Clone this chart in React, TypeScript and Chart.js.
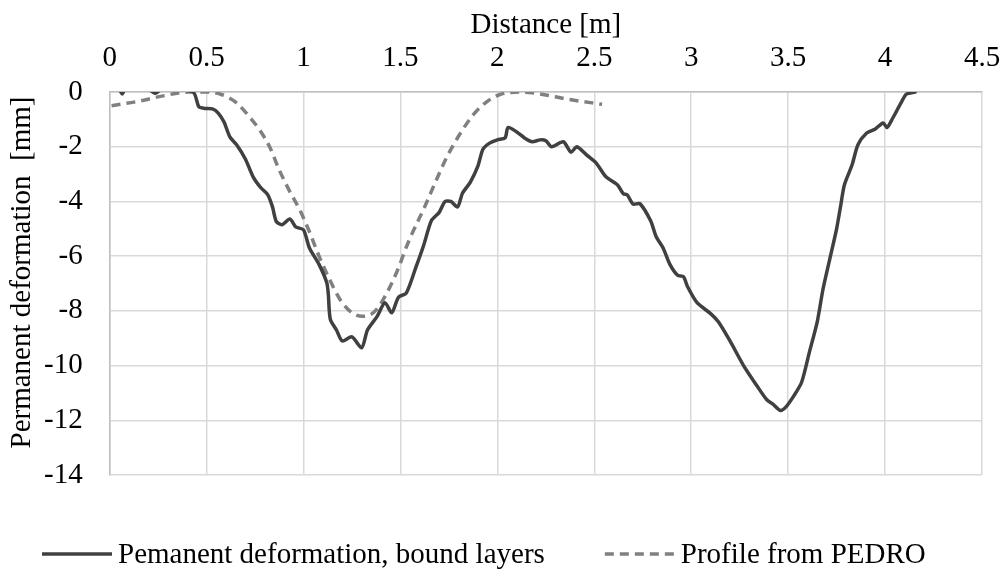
import React, { useEffect, useRef } from "react";
import { Chart, registerables } from "chart.js";

Chart.register(...registerables);

const xTicks = [0, 0.5, 1, 1.5, 2, 2.5, 3, 3.5, 4, 4.5];
const yTicks = [0, -2, -4, -6, -8, -10, -12, -14];

const boundX = [
  0.05, 0.065, 0.08, 0.2, 0.235, 0.27, 0.43, 0.46, 0.49, 0.53, 0.56, 0.59, 0.62, 0.655, 0.7, 0.74, 0.78, 0.815, 0.84, 0.86,
  0.89, 0.93, 0.96, 1.0, 1.03, 1.08, 1.12, 1.128, 1.138, 1.17, 1.2, 1.25, 1.3, 1.33, 1.38, 1.42, 1.455, 1.49,
  1.53, 1.58, 1.62, 1.66, 1.7, 1.73, 1.76, 1.795, 1.82, 1.86, 1.9, 1.925, 1.96, 2.0, 2.04, 2.055, 2.1, 2.14,
  2.18, 2.22, 2.25, 2.28, 2.34, 2.38, 2.41, 2.46, 2.51, 2.56, 2.62, 2.65, 2.67, 2.7, 2.735, 2.79, 2.82, 2.855,
  2.89, 2.93, 2.96, 2.98, 3.03, 3.1, 3.14, 3.2, 3.27, 3.34, 3.39, 3.42, 3.46, 3.49, 3.53, 3.57, 3.61, 3.65,
  3.68, 3.715, 3.75, 3.77, 3.79, 3.83, 3.86, 3.905, 3.95, 3.99, 4.01, 4.04, 4.085, 4.11, 4.155,
];
const boundY = [
  0.1, -0.07, 0.1, 0.1, -0.05, 0.1, 0, -0.54, -0.6, -0.62, -0.77, -1.1, -1.64, -1.93, -2.45, -3.1, -3.5, -3.75, -4.2, -4.74,
  -4.85, -4.64, -4.93, -5.04, -5.69, -6.3, -6.97, -7.4, -8.3, -8.7, -9.1, -8.95, -9.35, -8.7, -8.2, -7.7, -8.07, -7.5,
  -7.35, -6.4, -5.6, -4.7, -4.4, -4.0, -4.0, -4.2, -3.7, -3.3, -2.7, -2.1, -1.87, -1.75, -1.68, -1.3, -1.46, -1.68,
  -1.82, -1.75, -1.78, -2.0, -1.82, -2.2, -2.0, -2.3, -2.6, -3.1, -3.4, -3.72, -3.76, -4.1, -4.08, -4.7, -5.3, -5.7,
  -6.3, -6.7, -6.75, -7.1, -7.7, -8.1, -8.4, -9.1, -10.0, -10.75, -11.25, -11.4, -11.64, -11.5, -11.1, -10.6, -9.5, -8.4,
  -7.2, -6.1, -5.0, -4.2, -3.4, -2.66, -1.93, -1.5, -1.35, -1.13, -1.3, -0.95, -0.36, -0.08, 0,
];

const pedroX = [
  0.01, 0.155, 0.27, 0.41, 0.5, 0.58, 0.655, 0.72, 0.775, 0.825, 0.875, 0.93, 0.98, 1.03, 1.08, 1.135, 1.19, 1.25,
  1.305, 1.36, 1.41, 1.48, 1.54, 1.625, 1.68, 1.74, 1.81, 1.875, 1.945, 2.01, 2.12, 2.22, 2.36, 2.54,
];
const pedroY = [
  -0.5, -0.33, -0.15, 0, 0, -0.1, -0.4, -0.9, -1.4, -2.0, -2.85, -3.65, -4.3, -5.1, -6.0, -6.86, -7.6, -8.07,
  -8.2, -8.07, -7.6, -6.6, -5.5, -4.2, -3.3, -2.37, -1.5, -0.84, -0.36, -0.1, 0, -0.07, -0.26, -0.45,
];

const seriesNames = ["Pemanent deformation, bound layers", "Profile from PEDRO"];
const xTitle = "Distance [m]";
const yTitle = "Permanent deformation  [mm]";

const FONT = "'Liberation Serif', 'Times New Roman', serif";
const FS = 29;

const extras = {
  id: "extras",
  afterDraw(chart: any) {
    const ctx = chart.ctx as CanvasRenderingContext2D;
    const area = chart.chartArea;
    ctx.save();
    ctx.font = `${FS}px ${FONT}`;
    ctx.fillStyle = "#000";

    // y-axis title
    ctx.save();
    ctx.translate(22, (area.top + area.bottom) / 2 - 11);
    ctx.rotate(-Math.PI / 2);
    ctx.textAlign = "center";
    ctx.textBaseline = "middle";
    ctx.fillText(yTitle, 0, 0);
    ctx.restore();

    // legend
    const lineLen = 70;
    const gapText = 6;
    const gapItem = 60;
    const lineY = area.bottom + 79;
    const baseY = area.bottom + 88;
    let x = 42;
    ctx.textBaseline = "alphabetic";
    ctx.textAlign = "left";
    chart.data.datasets.forEach((ds: any) => {
      ctx.beginPath();
      ctx.strokeStyle = ds.borderColor;
      ctx.lineWidth = ds.borderWidth;
      ctx.setLineDash(ds.borderDash || []);
      ctx.moveTo(x, lineY);
      ctx.lineTo(x + lineLen, lineY);
      ctx.stroke();
      ctx.setLineDash([]);
      const tx = x + lineLen + gapText;
      ctx.fillText(ds.label, tx, baseY);
      x = tx + ctx.measureText(ds.label).width + gapItem;
    });
    ctx.restore();
  },
};

export default function App() {
  const canvasRef = useRef<HTMLCanvasElement | null>(null);

  useEffect(() => {
    document.body.style.margin = "0";
    const canvas = canvasRef.current;
    if (!canvas) return;
    const chart = new Chart(canvas, {
      type: "line",
      data: {
        datasets: [
          {
            label: seriesNames[0],
            data: boundX.map((x, i) => ({ x, y: boundY[i] })),
            borderColor: "#404040",
            backgroundColor: "#404040",
            borderWidth: 3.5,
            pointRadius: 0,
            tension: 0.25,
            borderJoinStyle: "round",
            borderCapStyle: "round",
            clip: 0,
          },
          {
            label: seriesNames[1],
            data: pedroX.map((x, i) => ({ x, y: pedroY[i] })),
            borderColor: "#808080",
            backgroundColor: "#808080",
            borderWidth: 3.5,
            borderDash: [9, 6],
            pointRadius: 0,
            cubicInterpolationMode: "monotone",
            clip: 0,
          },
        ],
      },
      plugins: [extras],
      options: {
        animation: false,
        responsive: false,
        maintainAspectRatio: false,
        layout: { padding: { left: 44, right: 22, top: 0, bottom: 97 } },
        plugins: {
          legend: { display: false },
          tooltip: { enabled: false },
        },
        scales: {
          x: {
            type: "linear",
            position: "top",
            min: 0,
            max: 4.5,
            afterBuildTicks: (axis: any) => {
              axis.ticks = xTicks.map((v) => ({ value: v }));
            },
            afterFit: (axis: any) => {
              axis.paddingLeft = 0;
              axis.paddingRight = 0;
              axis.height -= axis.options.ticks.padding;
            },
            ticks: {
              color: "#000",
              font: { family: FONT, size: FS },
              padding: 16.3,
              maxRotation: 0,
              callback: (v: any) => String(v),
            },
            grid: { color: "#d9d9d9", lineWidth: 1.5, drawTicks: false },
            border: { color: "#bfbfbf", width: 1.5 },
            title: {
              display: true,
              text: xTitle,
              color: "#000",
              font: { family: FONT, size: FS, lineHeight: 1.1 },
              padding: { top: 9, bottom: 0 },
            },
          },
          y: {
            type: "linear",
            min: -14,
            max: 0,
            afterBuildTicks: (axis: any) => {
              axis.ticks = yTicks.map((v) => ({ value: v }));
            },
            afterFit: (axis: any) => {
              axis.paddingTop = 0;
              axis.paddingBottom = 0;
              axis.width -= axis.options.ticks.padding;
            },
            ticks: {
              color: "#000",
              font: { family: FONT, size: FS },
              padding: 27,
              callback: (v: any) => String(v),
            },
            grid: { color: "#d9d9d9", lineWidth: 1.5, drawTicks: false },
            border: { color: "#bfbfbf", width: 1.5 },
            title: { display: false },
          },
        },
      },
    });
    return () => chart.destroy();
  }, []);

  return (
    <div style={{ width: 1004, height: 572 }}>
      <canvas ref={canvasRef} width={1004} height={572} style={{ width: 1004, height: 572, display: "block" }} />
    </div>
  );
}
